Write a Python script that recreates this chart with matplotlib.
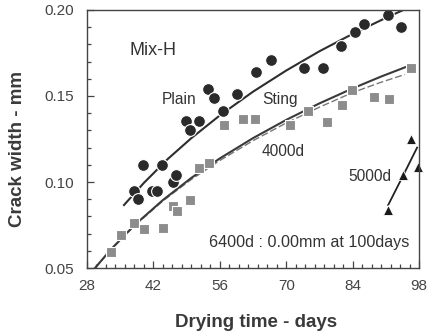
import matplotlib.pyplot as plt
from matplotlib.ticker import MultipleLocator, FormatStrFormatter

plt.rcParams['font.family'] = ['Liberation Sans', 'DejaVu Sans']

# Plain - measured crack widths (circles)
plain_days = [37.9, 38.8, 39.9, 41.8, 42.8, 43.9, 46.1, 46.7, 48.9, 49.8, 51.7, 53.6,
              54.8, 56.7, 59.6, 63.6, 66.7, 73.7, 77.7, 81.6, 84.5, 86.5, 91.5, 94.3]
plain_mm = [0.095, 0.090, 0.110, 0.095, 0.095, 0.110, 0.100, 0.104, 0.1355, 0.130, 0.1355, 0.154,
            0.149, 0.141, 0.151, 0.164, 0.171, 0.166, 0.166, 0.179, 0.187, 0.192, 0.197, 0.190]

# Sting - measured crack widths (squares)
sting_days = [33.0, 35.1, 37.9, 40.0, 44.0, 46.1, 47.0, 49.8, 51.7, 53.8, 56.8, 60.8,
              63.5, 70.8, 74.7, 78.7, 81.7, 83.8, 88.5, 91.7, 96.3]
sting_mm = [0.0595, 0.069, 0.076, 0.0725, 0.073, 0.086, 0.083, 0.0895, 0.108, 0.111, 0.133, 0.1365,
            0.1365, 0.133, 0.141, 0.135, 0.145, 0.1535, 0.1496, 0.148, 0.1665]

# 5000d - triangles
d5000_days = [91.5, 94.7, 96.3, 97.8]
d5000_mm = [0.0837, 0.104, 0.125, 0.109]

# fitted curves
plain_fit_days = [35.8, 40, 45, 50, 56, 63, 70, 77, 84, 91, 96.3]
plain_fit_mm = [0.0866, 0.0995, 0.1133, 0.1255, 0.1387, 0.1525, 0.1648, 0.176, 0.1861, 0.1954, 0.202]

sting_fit_days = [29.7, 33, 38, 44, 50, 56, 63, 70, 77, 84, 90, 96.3]
sting_fit_mm = [0.050, 0.0607, 0.0749, 0.0895, 0.1024, 0.1137, 0.1255, 0.1361, 0.1457, 0.1544, 0.1613, 0.168]

d4000_fit_days = [29.7, 33, 38, 44, 50, 56, 63, 70, 77, 84, 90, 95]
d4000_fit_mm = [0.050, 0.0605, 0.0745, 0.089, 0.1015, 0.1125, 0.124, 0.1343, 0.1435, 0.152, 0.158, 0.1625]

d5000_fit_days = [91.5, 94.7, 97.6]
d5000_fit_mm = [0.0866, 0.104, 0.120]

fig = plt.figure(figsize=(4.31, 3.36), dpi=100)
ax = fig.add_axes([87/431, 68/336, 332/431, 258/336])

# lines first, markers with white edge on top (halo look of the original)
ax.plot(plain_fit_days, plain_fit_mm, '-', color='#2e2e2e', lw=1.5)
ax.plot(d4000_fit_days, d4000_fit_mm, '--', color='#777777', lw=1.0, dashes=(5, 2))
ax.plot(sting_fit_days, sting_fit_mm, '-', color='#3a3a3a', lw=1.5)
ax.plot(d5000_fit_days, d5000_fit_mm, '-', color='#222222', lw=1.3, clip_on=False)

ax.plot(plain_days, plain_mm, 'o', ms=8.5, color='#2a2a2a', mec='white', mew=0.8)
ax.plot(sting_days, sting_mm, 's', ms=7.5, color='#8c8c8c', mec='white', mew=0.8)
ax.plot(d5000_days, d5000_mm, '^', ms=7, color='#1a1a1a', mec='white', mew=0.6, clip_on=False)

txt = '#333333'
ax.text(37.0, 0.1767, 'Mix-H', fontsize=13, color=txt, va='center')
ax.text(43.7, 0.1477, 'Plain', fontsize=11.2, color=txt, va='center')
ax.text(64.9, 0.1477, 'Sting', fontsize=11.2, color=txt, va='center')
ax.text(64.9, 0.1176, '4000d', fontsize=11.2, color=txt, va='center')
ax.text(83.1, 0.1030, '5000d', fontsize=11.2, color=txt, va='center')
ax.text(53.8, 0.0647, '6400d : 0.00mm at 100days', fontsize=11.6, color=txt, va='center')

ax.set_xlim(28, 98)
ax.set_ylim(0.05, 0.20)
ax.xaxis.set_major_locator(MultipleLocator(14))
ax.xaxis.set_minor_locator(MultipleLocator(2))
ax.yaxis.set_major_locator(MultipleLocator(0.05))
ax.yaxis.set_minor_locator(MultipleLocator(0.01))
ax.yaxis.set_major_formatter(FormatStrFormatter('%.2f'))

ax.tick_params(which='both', direction='in', colors='#444444', labelsize=11, width=0.9)
ax.tick_params(which='major', length=5)
ax.tick_params(which='minor', length=3)
ax.tick_params(axis='x', pad=8)
ax.tick_params(axis='y', pad=9)
for s in ax.spines.values():
    s.set_color('#444444')
    s.set_linewidth(1.0)

ax.set_xlabel('Drying time - days', fontsize=13.5, fontweight='bold', color='#3a3a3a')
ax.set_ylabel('Crack width - mm', fontsize=13.5, fontweight='bold', color='#3a3a3a')
ax.xaxis.label.set_va('center')
ax.yaxis.label.set_va('center')
ax.xaxis.set_label_coords(0.509, -0.213)
ax.yaxis.set_label_coords(-0.208, 0.461)

plt.savefig('out.png', dpi=100)
